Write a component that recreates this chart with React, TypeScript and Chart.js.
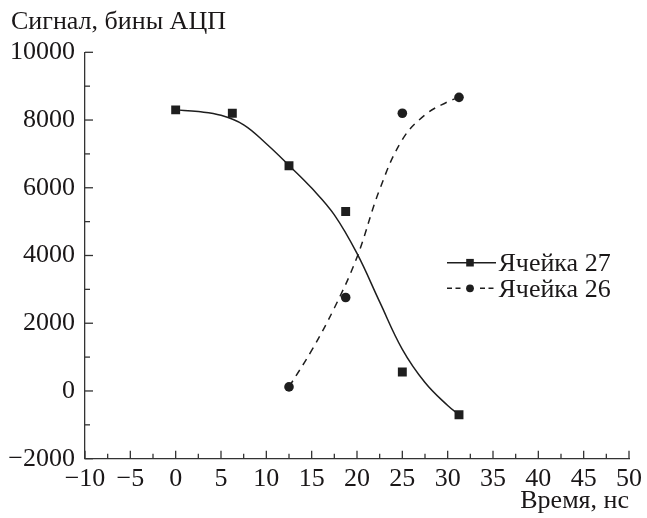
import React, { useEffect, useRef } from "react";
import { Chart, registerables } from "chart.js";

Chart.register(...registerables);

// Measured points
const cell27Time = [0, 6.25, 12.5, 18.75, 25, 31.25];
const cell27Signal = [8300, 8200, 6650, 5300, 560, -700];
const cell26Time = [12.5, 18.75, 25, 31.25];
const cell26Signal = [120, 2760, 8200, 8670];

// Fitted curves
const fit27Time = [0, 2.5, 5, 7.5, 10, 12.5, 15, 17.5, 20, 22.5, 25, 27.5, 30, 31.25];
const fit27Signal = [8300, 8250, 8140, 7860, 7300, 6660, 5990, 5200, 4060, 2630, 1230, 250, -430, -700];
const fit26Time = [12.5, 15, 17.5, 20, 22.5, 25, 27.5, 30, 31.25];
const fit26Signal = [120, 1200, 2450, 3950, 5950, 7420, 8150, 8540, 8670];

const seriesLabels = ["Ячейка 27", "Ячейка 26"];
const xTitle = "Время, нс";
const yTitle = "Сигнал, бины АЦП";

const X_MIN = -10;
const X_MAX = 50;
const X_STEP = 5;
const Y_MIN = -2000;
const Y_MAX = 10000;
const Y_STEP = 2000;

const FONT = "'Liberation Serif', 'Times New Roman', serif";
const FS = 26;
const INK = "#1a1718";
const LINE = "#1e1e1e";

const toPts = (xs: number[], ys: number[]) => xs.map((x, i) => ({ x, y: ys[i] }));
const fmt = (v: number) => (v < 0 ? "\u2212" + Math.abs(v) : String(v));

const decorPlugin = {
  id: "decor",
  afterDraw(chart: any) {
    const { ctx, chartArea, scales } = chart;
    const xs = scales.x;
    const ys = scales.y;
    ctx.save();
    ctx.strokeStyle = "#333";
    ctx.lineWidth = 1.3;
    for (let v = X_MIN; v <= X_MAX + 1e-9; v += X_STEP / 2) {
      const px = xs.getPixelForValue(v);
      const major = Math.abs(v / X_STEP - Math.round(v / X_STEP)) < 1e-6;
      const len = major ? 8 : 5;
      ctx.beginPath();
      ctx.moveTo(px, chartArea.bottom);
      ctx.lineTo(px, chartArea.bottom - len);
      ctx.stroke();
    }
    for (let v = Y_MIN; v <= Y_MAX + 1e-9; v += Y_STEP / 2) {
      const py = ys.getPixelForValue(v);
      const major = Math.abs(v / Y_STEP - Math.round(v / Y_STEP)) < 1e-6;
      const len = major ? 8 : 5;
      ctx.beginPath();
      ctx.moveTo(chartArea.left, py);
      ctx.lineTo(chartArea.left + len, py);
      ctx.stroke();
    }
    ctx.fillStyle = INK;
    ctx.font = `${FS}px ${FONT}`;
    ctx.textAlign = "left";
    ctx.textBaseline = "alphabetic";
    ctx.fillText(yTitle, 11, 28.5);

    const rows = [
      { y: 262.7, base: 270.5, dash: false, style: "rect" },
      { y: 288.3, base: 297, dash: true, style: "circle" },
    ];
    const x0 = 447;
    const x1 = 496;
    const mx = 470;
    rows.forEach((r, i) => {
      ctx.strokeStyle = LINE;
      ctx.lineWidth = 1.4;
      if (!r.dash) {
        ctx.setLineDash([]);
        ctx.beginPath();
        ctx.moveTo(x0, r.y);
        ctx.lineTo(x1, r.y);
        ctx.stroke();
      } else {
        ctx.setLineDash([5, 3.5]);
        ctx.beginPath();
        ctx.moveTo(x0, r.y);
        ctx.lineTo(x0 + 14, r.y);
        ctx.stroke();
        ctx.beginPath();
        ctx.moveTo(mx + 10, r.y);
        ctx.lineTo(x1 + 1, r.y);
        ctx.stroke();
        ctx.setLineDash([]);
      }
      ctx.fillStyle = LINE;
      ctx.beginPath();
      if (r.style === "rect") {
        ctx.rect(mx - 3.8, r.y - 3.8, 7.6, 7.6);
      } else {
        ctx.arc(mx, r.y, 3.9, 0, Math.PI * 2);
      }
      ctx.fill();
      ctx.fillStyle = INK;
      ctx.font = `${FS}px ${FONT}`;
      ctx.textAlign = "left";
      ctx.textBaseline = "alphabetic";
      ctx.fillText(seriesLabels[i], 498.5, r.base);
    });
    ctx.restore();
  },
};

export default function App() {
  const ref = useRef<HTMLCanvasElement | null>(null);

  useEffect(() => {
    if (!ref.current) return;
    const chart = new Chart(ref.current, {
      type: "scatter",
      data: {
        datasets: [
          {
            label: seriesLabels[0],
            data: toPts(cell27Time, cell27Signal),
            showLine: false,
            pointStyle: "rect",
            pointRadius: 6.3,
            backgroundColor: LINE,
            borderColor: LINE,
            borderWidth: 0,
          },
          {
            label: seriesLabels[1],
            data: toPts(cell26Time, cell26Signal),
            showLine: false,
            pointStyle: "circle",
            pointRadius: 4.8,
            backgroundColor: LINE,
            borderColor: LINE,
            borderWidth: 0,
          },
          {
            label: seriesLabels[0] + " fit",
            data: toPts(fit27Time, fit27Signal),
            showLine: true,
            pointRadius: 0,
            borderColor: LINE,
            borderWidth: 1.5,
            tension: 0.4,
          },
          {
            label: seriesLabels[1] + " fit",
            data: toPts(fit26Time, fit26Signal),
            showLine: true,
            pointRadius: 0,
            borderColor: LINE,
            borderWidth: 1.5,
            borderDash: [7, 6],
            tension: 0.4,
          },
        ],
      },
      options: {
        responsive: false,
        animation: false,
        events: [],
        layout: { padding: { top: 52.3, right: 13.5, left: 0, bottom: 0 } },
        plugins: {
          legend: { display: false },
          tooltip: { enabled: false },
          title: { display: false },
        },
        scales: {
          x: {
            type: "linear",
            min: X_MIN,
            max: X_MAX,
            afterFit: (s: any) => {
              s.height = 518 - 458.7;
            },
            grid: { display: false, drawTicks: false },
            border: { display: true, color: "#333", width: 1.3 },
            ticks: {
              stepSize: X_STEP,
              padding: 5,
              color: INK,
              font: { family: FONT, size: FS },
              maxRotation: 0,
              autoSkip: false,
              callback: (v: any) => fmt(Number(v)),
            },
            title: {
              display: true,
              text: xTitle,
              align: "end",
              color: INK,
              font: { family: FONT, size: FS },
              padding: { top: 0, bottom: 1 },
            },
          },
          y: {
            type: "linear",
            min: Y_MIN,
            max: Y_MAX,
            afterFit: (s: any) => {
              s.width = 85;
            },
            grid: { display: false, drawTicks: false },
            border: { display: true, color: "#333", width: 1.3 },
            ticks: {
              stepSize: Y_STEP,
              padding: 10,
              color: INK,
              font: { family: FONT, size: FS },
              autoSkip: false,
              callback: (v: any) => fmt(Number(v)),
            },
          },
        },
      },
      plugins: [decorPlugin],
    } as any);
    return () => chart.destroy();
  }, []);

  return (
    <div style={{ position: "fixed", left: 0, top: 0, width: 647, height: 518, background: "#fff" }}>
      <canvas ref={ref} width={647} height={518} style={{ display: "block", width: 647, height: 518 }} />
    </div>
  );
}
